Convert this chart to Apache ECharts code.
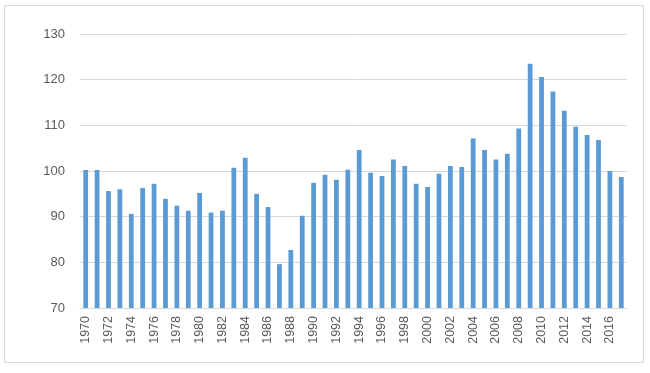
<!DOCTYPE html>
<html>
<head>
<meta charset="utf-8">
<script src="https://cdn.jsdelivr.net/npm/echarts@6/dist/echarts.min.js"></script>
<style>
html,body{margin:0;padding:0;background:#fff;}
#c{width:650px;height:373px;}
</style>
</head>
<body>
<div id="c"></div>
<script>
const years = [];
for (let y = 1970; y <= 2017; y++) years.push(String(y));
const values = [
  100.2, 100.2, 95.6, 96.0, 90.6, 96.3, 97.2, 93.9, 92.4, 91.3,
  95.2, 90.9, 91.3, 100.7, 102.9, 95.0, 92.1, 79.6, 82.7, 90.2,
  97.4, 99.2, 98.1, 100.3, 104.6, 99.6, 98.9, 102.5, 101.1, 97.2,
  96.5, 99.4, 101.1, 100.9, 107.1, 104.6, 102.5, 103.8, 109.3, 123.5,
  120.6, 117.4, 113.2, 109.7, 107.9, 106.8, 100.0, 98.7
];
const yMin = 70, yMax = 130, yStep = 10;

const chart = echarts.init(document.getElementById('c'), null, {renderer: 'canvas'});
chart.setOption({
  animation: false,
  backgroundColor: '#fff',
  graphic: [{
    type: 'rect',
    shape: {x: 4.5, y: 5.5, width: 639, height: 357},
    style: {fill: 'none', stroke: '#d9d9d9', lineWidth: 1},
    silent: true
  }],
  grid: {left: 80, right: 23, top: 34, bottom: 65},
  xAxis: {
    type: 'category',
    data: years,
    axisLine: {lineStyle: {color: '#d9d9d9'}},
    axisTick: {show: false},
    axisLabel: {
      interval: 1,
      rotate: 90,
      color: '#595959',
      fontSize: 12.5,
      fontFamily: 'Liberation Sans, Arial, sans-serif',
      margin: 8
    }
  },
  yAxis: {
    type: 'value',
    min: yMin, max: yMax, interval: yStep,
    axisLine: {show: false},
    axisTick: {show: false},
    splitLine: {lineStyle: {color: '#d9d9d9'}},
    axisLabel: {
      color: '#595959',
      fontSize: 13,
      fontFamily: 'Liberation Sans, Arial, sans-serif',
      margin: 15
    }
  },
  series: [{
    type: 'bar',
    data: values,
    barCategoryGap: '58%',
    itemStyle: {color: '#5b9bd5'}
  }]
});
</script>
</body>
</html>
